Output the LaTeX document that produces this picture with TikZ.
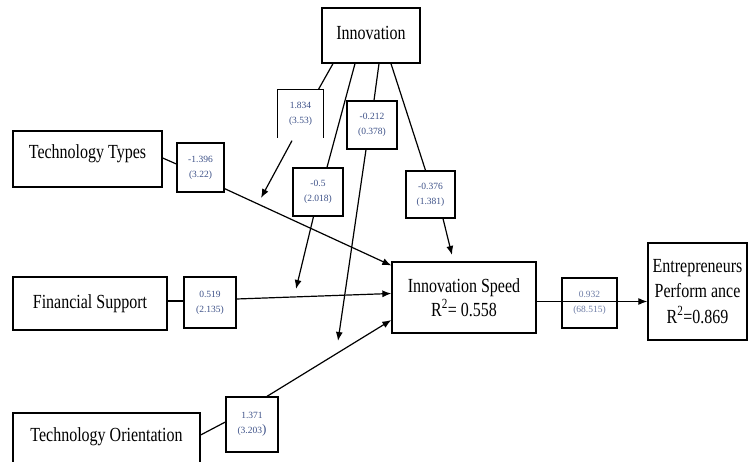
\documentclass[tikz,border=0pt]{standalone}
\usepackage{fontspec}
\setmainfont{Liberation Serif}
\newfontfamily\condfont[FakeStretch=0.8]{Liberation Serif}
\usetikzlibrary{arrows.meta}
\definecolor{numblue}{RGB}{60,80,135}

\begin{document}
\begin{tikzpicture}[x=1pt, y=-1pt,
  var/.style={draw, line width=1.3pt, inner sep=0pt, align=center, font=\condfont\fontsize{20}{24}\selectfont},
  coef/.style={draw, line width=1.3pt, inner sep=0pt, align=center, text=numblue, font=\fontsize{9.5}{15}\selectfont},
  link/.style={line width=1.2pt},
  arr/.style={line width=1.2pt, -{Latex[length=9pt,width=7pt]}}]
\clip (0,0) rectangle (748,462);
% constructs
\node[var, minimum width=98pt, minimum height=55pt, text depth=5pt] (inn) at (371,35.5) {Innovation};
\node[var, minimum width=149pt, minimum height=56pt, text height=13pt, text depth=13pt] (tt) at (87.5,159) {Technology Types};
\node[var, minimum width=154pt, minimum height=53pt] (fs) at (90,303.5) {Financial Support};
\node[var, minimum width=187pt, minimum height=57pt, text height=13pt, text depth=13pt] (tor) at (106.5,441.5) {Technology Orientation};
\node[var, minimum width=144pt, minimum height=71pt] (ispeed) at (464,297.5) {Innovation Speed\\R\textsuperscript{2}= 0.558};
\node[var, minimum width=99pt, minimum height=97pt, font=\condfont\fontsize{20}{25.5}\selectfont] (perf) at (697.5,291.5) {Entrepreneurs\\Perform ance\\R\textsuperscript{2}=0.869};
% path coefficients
\node[coef, draw=none, minimum width=45pt, minimum height=47pt] (b1834) at (300.5,113.5) {1.834\\(3.53)};
\draw[line width=1.3pt] (b1834.south west) -- (b1834.north west) -- (b1834.north east) -- (b1834.south east);
\node[coef, minimum width=47pt, minimum height=49pt] (b1396) at (200.5,167.5) {-1.396\\(3.22)};
\node[coef, minimum width=50pt, minimum height=48pt] (b0212) at (372,125) {-0.212\\(0.378)};
\node[coef, minimum width=50pt, minimum height=48pt] (b05) at (318,192) {-0.5\\(2.018)};
\node[coef, minimum width=49pt, minimum height=47pt] (b0376) at (430.5,194.5) {-0.376\\(1.381)};
\node[coef, minimum width=52pt, minimum height=51pt] (b0519) at (210,302.5) {0.519\\(2.135)};
\node[coef, minimum width=52pt, minimum height=55pt] (b1371) at (252,424.5) {1.371\\(3.203{\fontsize{13}{15}\selectfont )}};
\node[coef, text=numblue!75, minimum width=55pt, minimum height=50pt] (b0932) at (589.5,303) {0.932\\(68.515)};
% free ends of the moderating arrows
\coordinate (m1) at (261,198);
\coordinate (m2) at (296,289);
\coordinate (m3) at (338,341);
\coordinate (m4) at (452,255);
% moderation by innovation
\draw[link] ([xshift=-38pt]inn.south) -- ([xshift=18pt]b1834.north);
\draw[arr] ([xshift=-8.5pt,yshift=-3pt]b1834.south) -- (m1);
\draw[link] ([xshift=-16pt]inn.south) -- ([xshift=9pt]b05.north);
\draw[arr] ([xshift=-4.5pt]b05.south) -- (m2);
\draw[link] ([xshift=8pt]inn.south) -- ([xshift=2pt]b0212.north);
\draw[arr] ([xshift=-6pt]b0212.south) -- (m3);
\draw[link] ([xshift=20pt]inn.south) -- ([xshift=-5pt]b0376.north);
\draw[arr] ([xshift=12.5pt]b0376.south) -- (m4);
% direct effects
\draw[link] ([yshift=1pt]tt.east) -- ([yshift=3.5pt]b1396.west);
\draw[arr] ([yshift=4pt]b1396.south east) -- ([yshift=32pt]ispeed.west);
\draw[link] ([yshift=2.5pt]fs.east) -- ([yshift=1.5pt]b0519.west);
\draw[arr] ([yshift=3.5pt]b0519.east) -- ([yshift=4pt]ispeed.west);
\draw[link] ([yshift=6.5pt]tor.east) -- ([yshift=2.5pt]b1371.west);
\draw[arr] ([xshift=15pt]b1371.north) -- ([yshift=-22.5pt]ispeed.west);
\draw[arr] ([yshift=-4pt]ispeed.east) -- ([yshift=-10pt]perf.west);
\end{tikzpicture}
\end{document}
